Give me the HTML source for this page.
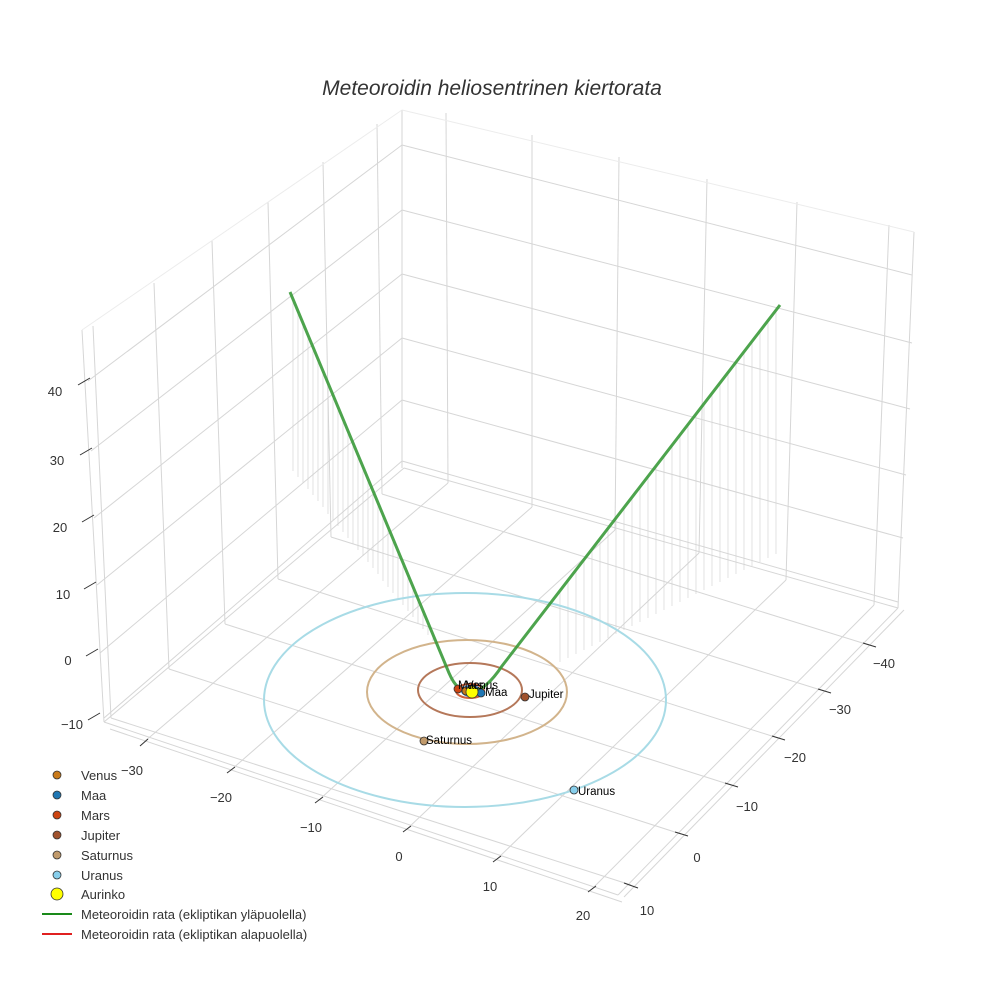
<!DOCTYPE html>
<html><head><meta charset="utf-8">
<style>
html,body{margin:0;padding:0;background:#fff;}
svg{display:block;font-family:"Liberation Sans",sans-serif;}
</style></head>
<body>
<svg width="984" height="984" viewBox="0 0 984 984" xmlns="http://www.w3.org/2000/svg">
<rect width="984" height="984" fill="#fff"/>
<g stroke="#d6d6d6" stroke-width="1" fill="none">
<line x1="111" y1="718" x2="93" y2="326"/><line x1="169" y1="669" x2="154" y2="283"/>
<line x1="225" y1="624" x2="212" y2="241"/><line x1="278" y1="579" x2="268" y2="202"/>
<line x1="331" y1="537" x2="323" y2="162"/><line x1="382" y1="494" x2="377" y2="124"/>
<line x1="104" y1="718" x2="402" y2="461"/><line x1="100" y1="653" x2="402" y2="400"/>
<line x1="97" y1="585" x2="402" y2="338"/><line x1="94" y1="518" x2="402" y2="274"/>
<line x1="91" y1="451" x2="402" y2="210"/><line x1="88" y1="381" x2="402" y2="145"/>
<line x1="448" y1="483" x2="446" y2="113"/><line x1="532" y1="507" x2="532" y2="135"/>
<line x1="615" y1="530" x2="619" y2="157"/><line x1="699" y1="553" x2="707" y2="179"/>
<line x1="786" y1="580" x2="797" y2="202"/><line x1="874" y1="605" x2="889" y2="225"/>
<line x1="402" y1="461" x2="898" y2="602"/><line x1="402" y1="400" x2="903" y2="538"/>
<line x1="402" y1="338" x2="906" y2="475"/><line x1="402" y1="274" x2="910" y2="409"/>
<line x1="402" y1="210" x2="912" y2="343"/><line x1="402" y1="145" x2="912" y2="275"/>
<line x1="111" y1="718" x2="631" y2="885"/><line x1="169" y1="669" x2="681" y2="834"/>
<line x1="225" y1="624" x2="731" y2="785"/><line x1="278" y1="579" x2="778" y2="738"/>
<line x1="331" y1="537" x2="824" y2="691"/><line x1="382" y1="494" x2="869" y2="645"/>
<line x1="448" y1="483" x2="144" y2="742"/><line x1="532" y1="507" x2="231" y2="770"/>
<line x1="615" y1="530" x2="319" y2="800"/><line x1="699" y1="553" x2="407" y2="829"/>
<line x1="786" y1="580" x2="497" y2="859"/><line x1="874" y1="605" x2="592" y2="889"/>
<line x1="104" y1="722" x2="82" y2="330"/><line x1="402" y1="468" x2="402" y2="110"/>
<line x1="898" y1="608" x2="914" y2="232"/>
<line x1="104" y1="722" x2="404" y2="468"/><line x1="404" y1="468" x2="898" y2="608"/>
<line x1="104" y1="722" x2="618" y2="895"/><line x1="618" y1="895" x2="898" y2="608"/>
<line x1="110" y1="729" x2="622" y2="902"/><line x1="624" y1="897" x2="904" y2="610"/>
</g>
<g stroke="#ececec" stroke-width="1">
<line x1="82" y1="330" x2="402" y2="110"/><line x1="402" y1="110" x2="914" y2="232"/>
</g>
<path stroke="#d0d0d0" stroke-width="0.6" fill="none" d="M293,299V471M298,311V477M303,323V483M308,335V489M313,347V495M318,359V501M323,371V507M328,383V514M333,395V520M338,407V526M343,419V532M348,431V538M353,443V544M358,455V550M363,467V556M368,479V562M373,491V568M378,503V574M383,515V581M388,527V587M393,539V593M398,551V599M403,563V605M408,575V611M413,587V617M418,599V623M423,611V629M428,623V635M433,635V641M776,310V554M768,321V558M760,331V562M752,341V566M744,352V570M736,362V574M728,372V578M720,383V582M712,393V586M704,404V590M696,414V594M688,424V598M680,435V602M672,445V606M664,456V610M656,466V614M648,476V618M640,487V622M632,497V626M624,508V630M616,518V634M608,528V638M600,539V642M592,549V646M584,560V650M576,570V654M568,580V658M560,591V662"/>
<g fill="none" stroke-width="2">
<ellipse cx="465" cy="700" rx="201" ry="107" stroke="#a8dbe6"/>
<ellipse cx="467" cy="692" rx="100" ry="52" stroke="#d2b48c"/>
<ellipse cx="470" cy="690" rx="52" ry="27" stroke="#b5785a"/>
<ellipse cx="470" cy="691" rx="14" ry="7" stroke="#d0603a"/>
<ellipse cx="471" cy="691" rx="9" ry="5" stroke="#3b7dbf"/>
</g>
<path d="M290,292 L449,673 Q458,694 472,692 Q486,690 502,666 L780,305" fill="none" stroke="#3a9a3a" stroke-width="3" stroke-opacity="0.9"/>
<g stroke="#333" stroke-width="0.8">
<circle cx="458" cy="689" r="4" fill="#cc4411"/>
<circle cx="466" cy="691" r="4" fill="#c97a1a"/>
<circle cx="481" cy="693" r="4" fill="#1f77b4"/>
<circle cx="472" cy="692" r="6" fill="#ffff00"/>
<circle cx="525" cy="697" r="4" fill="#a0522d"/>
<circle cx="424" cy="741" r="4" fill="#c19a6b"/>
<circle cx="574" cy="790" r="4" fill="#87ceeb"/>
</g>
<g font-size="11.5" fill="#000">
<text x="458" y="689">Mars</text>
<text x="466" y="689">Venus</text>
<text x="485" y="696">Maa</text>
<text x="529" y="698">Jupiter</text>
<text x="426" y="744">Saturnus</text>
<text x="578" y="795">Uranus</text>
</g>
<text x="492" y="95" text-anchor="middle" font-size="21" font-style="italic" fill="#333">Meteoroidin heliosentrinen kiertorata</text>
<g font-size="13" fill="#333">
<text x="55" y="396" text-anchor="middle">40</text>
<text x="57" y="465" text-anchor="middle">30</text>
<text x="60" y="532" text-anchor="middle">20</text>
<text x="63" y="599" text-anchor="middle">10</text>
<text x="68" y="665" text-anchor="middle">0</text>
<text x="72" y="729" text-anchor="middle">−10</text>
<text x="132" y="775" text-anchor="middle">−30</text>
<text x="221" y="802" text-anchor="middle">−20</text>
<text x="311" y="832" text-anchor="middle">−10</text>
<text x="399" y="861" text-anchor="middle">0</text>
<text x="490" y="891" text-anchor="middle">10</text>
<text x="583" y="920" text-anchor="middle">20</text>
<text x="647" y="915" text-anchor="middle">10</text>
<text x="697" y="862" text-anchor="middle">0</text>
<text x="747" y="811" text-anchor="middle">−10</text>
<text x="795" y="762" text-anchor="middle">−20</text>
<text x="840" y="714" text-anchor="middle">−30</text>
<text x="884" y="668" text-anchor="middle">−40</text>
</g>
<g stroke="#333" stroke-width="1">
<line x1="78" y1="385" x2="90" y2="378"/><line x1="80" y1="455" x2="92" y2="448"/>
<line x1="82" y1="522" x2="94" y2="515"/><line x1="84" y1="589" x2="96" y2="582"/>
<line x1="86" y1="656" x2="98" y2="649"/><line x1="88" y1="720" x2="100" y2="713"/>
<line x1="140" y1="746" x2="148" y2="739"/><line x1="227" y1="773" x2="235" y2="767"/>
<line x1="315" y1="803" x2="323" y2="797"/><line x1="403" y1="832" x2="411" y2="826"/>
<line x1="493" y1="862" x2="501" y2="856"/><line x1="588" y1="892" x2="596" y2="886"/>
<line x1="624" y1="883" x2="638" y2="888"/><line x1="675" y1="832" x2="688" y2="836"/>
<line x1="725" y1="783" x2="738" y2="787"/><line x1="772" y1="736" x2="785" y2="740"/>
<line x1="818" y1="689" x2="831" y2="693"/><line x1="863" y1="643" x2="876" y2="647"/>
</g>
<g font-size="13" fill="#333">
<circle cx="57" cy="775" r="4" fill="#c97a1a" stroke="#333" stroke-width="0.8"/><text x="81" y="780">Venus</text>
<circle cx="57" cy="795" r="4" fill="#1f77b4" stroke="#333" stroke-width="0.8"/><text x="81" y="800">Maa</text>
<circle cx="57" cy="815" r="4" fill="#cc4411" stroke="#333" stroke-width="0.8"/><text x="81" y="820">Mars</text>
<circle cx="57" cy="835" r="4" fill="#a0522d" stroke="#333" stroke-width="0.8"/><text x="81" y="840">Jupiter</text>
<circle cx="57" cy="855" r="4" fill="#c19a6b" stroke="#333" stroke-width="0.8"/><text x="81" y="860">Saturnus</text>
<circle cx="57" cy="875" r="4" fill="#87ceeb" stroke="#333" stroke-width="0.8"/><text x="81" y="880">Uranus</text>
<circle cx="57" cy="894" r="6" fill="#ffff00" stroke="#333" stroke-width="0.8"/><text x="81" y="899">Aurinko</text>
<line x1="42" y1="914" x2="72" y2="914" stroke="#1a8a1a" stroke-width="2"/><text x="81" y="919">Meteoroidin rata (ekliptikan yläpuolella)</text>
<line x1="42" y1="934" x2="72" y2="934" stroke="#e02020" stroke-width="2"/><text x="81" y="939">Meteoroidin rata (ekliptikan alapuolella)</text>
</g>
</svg>
</body></html>
